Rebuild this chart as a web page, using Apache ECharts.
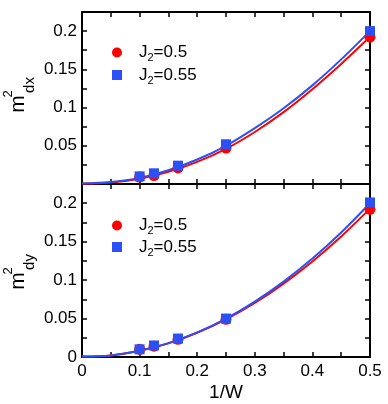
<!DOCTYPE html>
<html>
<head>
<meta charset="utf-8">
<script src="https://cdn.jsdelivr.net/npm/echarts@6/dist/echarts.min.js"></script>
<style>
  html, body { margin: 0; padding: 0; background: #fff; }
  #chart { width: 388px; height: 404px; }
</style>
</head>
<body>
<div id="chart"></div>
<script>
// measured points, x = 1/W
const xPoints = [0.1, 0.125, 0.1667, 0.25, 0.5]
const dxRed = [0.009, 0.011, 0.021, 0.047, 0.192]
const dxBlue = [0.010, 0.014, 0.024, 0.052, 0.200]
const dyRed = [0.010, 0.014, 0.023, 0.049, 0.192]
const dyBlue = [0.010, 0.015, 0.024, 0.050, 0.201]

// fit curves
const xCurve = [0, 0.05, 0.1, 0.15, 0.2, 0.25, 0.3, 0.35, 0.4, 0.45, 0.5]
const dxRedFit = [0.0005, 0.002, 0.007, 0.016, 0.029, 0.046, 0.068, 0.094, 0.124, 0.157, 0.1925]
const dxBlueFit = [0.0005, 0.0025, 0.008, 0.018, 0.032, 0.050, 0.073, 0.099, 0.129, 0.163, 0.200]
const dyRedFit = [0.0005, 0.002, 0.008, 0.0177, 0.0315, 0.049, 0.0703, 0.0955, 0.1243, 0.1568, 0.193]
const dyBlueFit = [0.0005, 0.002, 0.008, 0.018, 0.032, 0.050, 0.072, 0.098, 0.128, 0.162, 0.200]

const labelsJ = ['J2=0.5', 'J2=0.55']

const RED = '#ff0000'
const BLUE = '#2b50f5'
const FONT = 'Liberation Sans'

const pair = (xs, ys) => xs.map((x, i) => [x, ys[i]])

function xAxisOf (grid, pos, labels) {
  return {
    type: 'value', gridIndex: grid, position: pos, min: 0, max: 0.5, interval: 0.05,
    axisLine: { onZero: false, lineStyle: { color: '#000', width: 2 } },
    axisTick: { inside: true, length: 5, lineStyle: { color: '#000', width: 1.5 } },
    splitLine: { show: false },
    axisLabel: {
      show: labels, color: '#000', fontSize: 17, fontFamily: FONT, margin: 6,
      formatter: v => (Math.round(v * 100) % 10 === 0 ? String(+v.toFixed(1)) : '')
    }
  }
}

function yAxisOf (grid, pos, labels, showZero) {
  return {
    type: 'value', gridIndex: grid, position: pos, min: 0, max: 0.225, interval: 0.025,
    axisLine: { onZero: false, lineStyle: { color: '#000', width: 2 } },
    axisTick: { inside: true, length: 5, lineStyle: { color: '#000', width: 1.5 } },
    splitLine: { show: false },
    axisLabel: {
      show: labels, color: '#000', fontSize: 17, fontFamily: FONT, margin: 5,
      formatter: v => {
        const k = Math.round(v * 1000)
        if (k % 50 !== 0 || k > 200) return ''
        if (k === 0 && !showZero) return ''
        return String(+v.toFixed(2))
      }
    }
  }
}

function fitLine (name, grid, ys, color) {
  return {
    name: name, type: 'line', xAxisIndex: grid * 2, yAxisIndex: grid * 2,
    data: pair(xCurve, ys), smooth: 0.3, showSymbol: false, symbol: 'none',
    lineStyle: { color: color, width: 2 }, itemStyle: { color: color }, z: 2
  }
}

function points (name, grid, ys, color, symbol, size) {
  return {
    name: name, type: 'scatter', xAxisIndex: grid * 2, yAxisIndex: grid * 2,
    data: pair(xPoints, ys), symbol: symbol, symbolSize: size, clip: false,
    itemStyle: { color: color, opacity: 1 }, z: 3
  }
}

const legendRich = {
  g: { width: 12 },
  a: { fontSize: 17, fontFamily: FONT, color: '#000', lineHeight: 22 },
  s: { fontSize: 11, fontFamily: FONT, color: '#000', lineHeight: 11, verticalAlign: 'bottom' }
}
const legendFmt = name => '{g|}{a|J}{s|2}{a|' + name.slice(2) + '}'

function legendAt (top, gap) {
  return {
    orient: 'vertical', left: 112, top: top, padding: 0, itemWidth: 10, itemHeight: 10, itemGap: gap,
    data: [{ name: labelsJ[0], icon: 'circle' }, { name: labelsJ[1], icon: 'rect' }],
    formatter: legendFmt,
    textStyle: { rich: legendRich },
    selectedMode: false
  }
}

// rotated axis title m^2_sub, drawn as a group turned 90deg counter-clockwise
function yTitle (cx, cy, sub) {
  const txt = (t, x, y, size) => ({
    type: 'text', x: x, y: y,
    style: { text: t, fontSize: size, fontFamily: FONT, fill: '#000', align: 'center', verticalAlign: 'middle' }
  })
  return {
    type: 'group', x: cx, y: cy, rotation: Math.PI / 2,
    children: [txt('m', 0, 0, 21), txt('2', 10, -10, 13), txt(sub, 19, 12, 15)]
  }
}

const chart = echarts.init(document.getElementById('chart'), null, { renderer: 'canvas' })
chart.setOption({
  animation: false,
  backgroundColor: '#fff',
  grid: [
    { left: 82, top: 12, width: 288, height: 172 },
    { left: 82, top: 184, width: 288, height: 173 }
  ],
  xAxis: [
    xAxisOf(0, 'bottom', false),
    xAxisOf(0, 'top', false),
    Object.assign(xAxisOf(1, 'bottom', true), {
      name: '1/W', nameLocation: 'middle', nameGap: 26,
      nameTextStyle: { color: '#000', fontSize: 19, fontFamily: FONT }
    }),
    xAxisOf(1, 'top', false)
  ],
  yAxis: [
    yAxisOf(0, 'left', true, false),
    yAxisOf(0, 'right', false, false),
    yAxisOf(1, 'left', true, true),
    yAxisOf(1, 'right', false, false)
  ],
  legend: [legendAt(44, 3), legendAt(217, 2)],
  graphic: [yTitle(18, 104, 'dx'), yTitle(18, 281, 'dy')],
  series: [
    fitLine(labelsJ[0], 0, dxRedFit, RED),
    fitLine(labelsJ[1], 0, dxBlueFit, BLUE),
    points(labelsJ[0], 0, dxRed, RED, 'circle', 11),
    points(labelsJ[1], 0, dxBlue, BLUE, 'rect', 10),
    fitLine(labelsJ[0], 1, dyRedFit, RED),
    fitLine(labelsJ[1], 1, dyBlueFit, BLUE),
    points(labelsJ[0], 1, dyRed, RED, 'circle', 11),
    points(labelsJ[1], 1, dyBlue, BLUE, 'rect', 10)
  ]
})
</script>
</body>
</html>
